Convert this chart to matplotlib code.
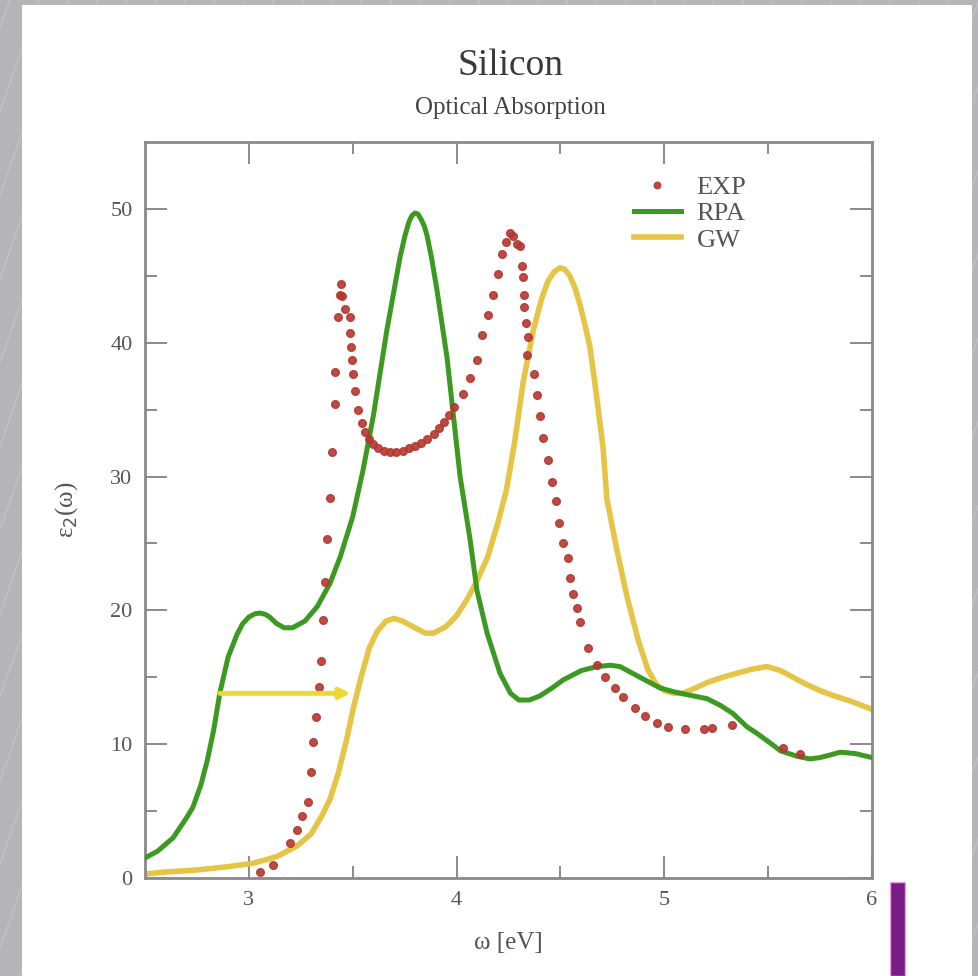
import matplotlib
matplotlib.use("Agg")
import matplotlib.pyplot as plt
from matplotlib.patches import Rectangle
import numpy as np

# ---- data (omega in eV, eps2) ----
exp_x = [3.054, 3.116, 3.198, 3.232, 3.256, 3.285, 3.300, 3.309, 3.323, 3.338, 3.347, 3.357, 3.367,
         3.378, 3.390, 3.400, 3.413, 3.417, 3.430, 3.438, 3.442, 3.450, 3.465, 3.487, 3.487, 3.490,
         3.497, 3.500, 3.510, 3.525, 3.545, 3.560, 3.580, 3.600, 3.620, 3.650, 3.680, 3.710, 3.740,
         3.770, 3.800, 3.830, 3.860, 3.890, 3.915, 3.940, 3.965, 3.990, 4.030, 4.065, 4.098, 4.122,
         4.151, 4.175, 4.200, 4.219, 4.240, 4.255, 4.270, 4.290, 4.305, 4.315, 4.320, 4.325, 4.325,
         4.334, 4.344, 4.339, 4.373, 4.387, 4.402, 4.416, 4.440, 4.460, 4.479, 4.493, 4.513, 4.537,
         4.546, 4.561, 4.580, 4.594, 4.633, 4.676, 4.715, 4.763, 4.801, 4.859, 4.907, 4.965, 5.018,
         5.100, 5.190, 5.230, 5.326, 5.572, 5.654]
exp_y = [0.45, 0.97, 2.6, 3.6, 4.6, 5.7, 7.9, 10.2, 12.0, 14.3, 16.2, 19.3, 22.1,
         25.3, 28.4, 31.8, 35.4, 37.8, 41.9, 43.6, 44.4, 43.5, 42.5, 41.9, 40.7, 39.7,
         38.7, 37.7, 36.4, 35.0, 34.0, 33.3, 32.8, 32.4, 32.1, 31.9, 31.8, 31.8, 31.9,
         32.1, 32.3, 32.5, 32.8, 33.2, 33.6, 34.1, 34.6, 35.2, 36.2, 37.4, 38.7, 40.6,
         42.1, 43.6, 45.1, 46.6, 47.5, 48.2, 48.0, 47.4, 47.2, 45.7, 44.9, 43.6, 42.7,
         41.5, 40.4, 39.1, 37.7, 36.1, 34.5, 32.9, 31.2, 29.6, 28.2, 26.5, 25.0, 23.9,
         22.4, 21.2, 20.2, 19.1, 17.2, 15.9, 15.0, 14.2, 13.5, 12.7, 12.1, 11.6, 11.3,
         11.1, 11.1, 11.2, 11.4, 9.7, 9.3]

rpa_x = [2.50, 2.56, 2.635, 2.70, 2.731, 2.77, 2.80, 2.83, 2.86, 2.90, 2.943, 2.97, 3.00, 3.03,
         3.054, 3.08, 3.10, 3.135, 3.17, 3.21, 3.27, 3.33, 3.39, 3.44, 3.50, 3.55, 3.60, 3.665,
         3.70, 3.728, 3.75, 3.77, 3.785, 3.80, 3.815, 3.83, 3.845, 3.858, 3.88, 3.906, 3.954,
         3.983, 4.017, 4.065, 4.098, 4.147, 4.209, 4.26, 4.30, 4.35, 4.40, 4.46, 4.513, 4.60,
         4.676, 4.74, 4.787, 4.883, 4.98, 5.05, 5.11, 5.206, 5.27, 5.33, 5.398, 5.447, 5.509,
         5.56, 5.639, 5.70, 5.75, 5.80, 5.846, 5.92, 6.00]
rpa_y = [1.5, 2.0, 3.0, 4.5, 5.3, 7.0, 8.8, 11.0, 13.8, 16.5, 18.2, 19.0, 19.5, 19.75,
         19.8, 19.7, 19.5, 19.0, 18.7, 18.7, 19.2, 20.3, 22.0, 24.0, 27.0, 30.5, 34.6, 41.0,
         44.0, 46.4, 47.9, 49.0, 49.5, 49.7, 49.6, 49.2, 48.7, 48.0, 46.3, 43.9, 38.9,
         34.8, 30.0, 25.3, 21.5, 18.3, 15.3, 13.8, 13.3, 13.3, 13.6, 14.2, 14.8, 15.5,
         15.8, 15.9, 15.8, 15.0, 14.2, 13.9, 13.7, 13.4, 12.9, 12.3, 11.3, 10.8, 10.1,
         9.5, 9.1, 8.9, 9.0, 9.2, 9.4, 9.3, 9.0]

gw_x = [2.50, 2.60, 2.75, 2.90, 3.02, 3.135, 3.232, 3.30, 3.35, 3.391, 3.43, 3.47, 3.50, 3.54,
        3.58, 3.617, 3.66, 3.70, 3.74, 3.80, 3.85, 3.89, 3.95, 4.00, 4.05, 4.098, 4.15, 4.20,
        4.24, 4.28, 4.32, 4.37, 4.41, 4.44, 4.47, 4.498, 4.52, 4.545, 4.57, 4.595, 4.62, 4.642,
        4.67, 4.705, 4.724, 4.772, 4.821, 4.874, 4.92, 4.96, 5.00, 5.05, 5.09, 5.15, 5.206,
        5.28, 5.35, 5.42, 5.495, 5.56, 5.62, 5.68, 5.75, 5.82, 5.90, 6.00]
gw_y = [0.3, 0.45, 0.6, 0.85, 1.1, 1.6, 2.4, 3.3, 4.6, 5.9, 7.8, 10.3, 12.5, 15.0,
        17.2, 18.4, 19.2, 19.4, 19.2, 18.7, 18.3, 18.3, 18.8, 19.6, 20.8, 22.2, 24.0, 26.6,
        29.0, 32.6, 37.0, 41.0, 43.3, 44.6, 45.3, 45.6, 45.5, 45.0, 44.1, 42.8, 41.2, 39.7,
        36.5, 32.2, 28.3, 24.5, 21.0, 17.8, 15.6, 14.5, 14.0, 13.8, 13.8, 14.2, 14.6,
        15.0, 15.3, 15.6, 15.8, 15.5, 15.0, 14.5, 14.0, 13.6, 13.2, 12.6]

shift_from = (2.86, 13.8)
shift_to = (3.49, 13.8)

EXP_C = "#b4372f"; RPA_C = "#3c9a22"; GW_C = "#e6c445"; ARROW_C = "#ecd92c"
GREY = "#555555"; SPINE = "#8a8a8a"

plt.rcParams.update({"font.family": ["Liberation Serif", "DejaVu Serif"]})

fig = plt.figure(figsize=(9.79, 9.76), dpi=100)
fig.patch.set_facecolor("#b4b4b9")
# brushed-metal hints
for k in np.arange(-1.0, 1.2, 0.03):
    fig.add_artist(plt.Line2D([k, k + 0.35], [0, 1], transform=fig.transFigure,
                              color="white", alpha=0.22, lw=0.8, zorder=0))
fig.patches.append(Rectangle((0.0225, 0), 0.970, 0.995, transform=fig.transFigure,
                             facecolor="white", edgecolor="none", zorder=1))
fig.patches.append(Rectangle((0.909, 0), 0.0153, 0.0963, transform=fig.transFigure,
                             facecolor="#7a1c88", edgecolor="#e7a5e0", lw=1, zorder=2))

ax = fig.add_axes([0.1481, 0.1004, 0.7426, 0.7541])
ax.set_zorder(3)
ax.plot(rpa_x, rpa_y, color=RPA_C, lw=3.6, solid_joinstyle="round", label="RPA", zorder=3)
ax.plot(gw_x, gw_y, color=GW_C, lw=4.0, solid_joinstyle="round", label="GW", zorder=2)
ax.plot(exp_x, exp_y, ls="none", marker="o", ms=5.5, color=EXP_C, mec=EXP_C, alpha=0.9,
        label="EXP", zorder=4)
ax.annotate("", xy=shift_to, xytext=shift_from,
            arrowprops=dict(arrowstyle="-|>,head_length=0.6,head_width=0.3", color=ARROW_C,
                            lw=3.5, shrinkA=0, shrinkB=0), zorder=5)

ax.set_xlim(2.5, 6)
ax.set_ylim(0, 55)
ax.set_xticks([3, 4, 5, 6])
ax.set_xticks([3.5, 4.5, 5.5], minor=True)
ax.set_yticks([0, 10, 20, 30, 40, 50])
ax.set_yticks([5, 15, 25, 35, 45], minor=True)
ax.tick_params(which="both", direction="in", top=True, right=True, color=SPINE,
               labelcolor=GREY, labelsize=16, width=1.4)
ax.tick_params(which="major", length=16, pad=9)
ax.tick_params(which="minor", length=8.5)
for s in ax.spines.values():
    s.set_color(SPINE); s.set_linewidth(2)

ax.set_xlabel("ω [eV]", fontsize=18, color=GREY, labelpad=16)
ax.set_ylabel("ε$_2$(ω)", fontsize=18, color=GREY, labelpad=22)

h, l = ax.get_legend_handles_labels()
order = [2, 0, 1]
ax.legend([h[i] for i in order], [l[i] for i in order], loc="upper left",
          bbox_to_anchor=(0.655, 0.972), frameon=False, fontsize=19, labelcolor=GREY,
          borderpad=0, handlelength=1.75, handletextpad=0.6, labelspacing=0.1,
          markerscale=0.85)

fig.text(0.521, 0.933, "Silicon", ha="center", va="center", fontsize=27, color="#3a3a3a")
fig.text(0.521, 0.889, "Optical Absorption", ha="center", va="center", fontsize=18, color="#444444")

fig.savefig("out.png", dpi=100)
